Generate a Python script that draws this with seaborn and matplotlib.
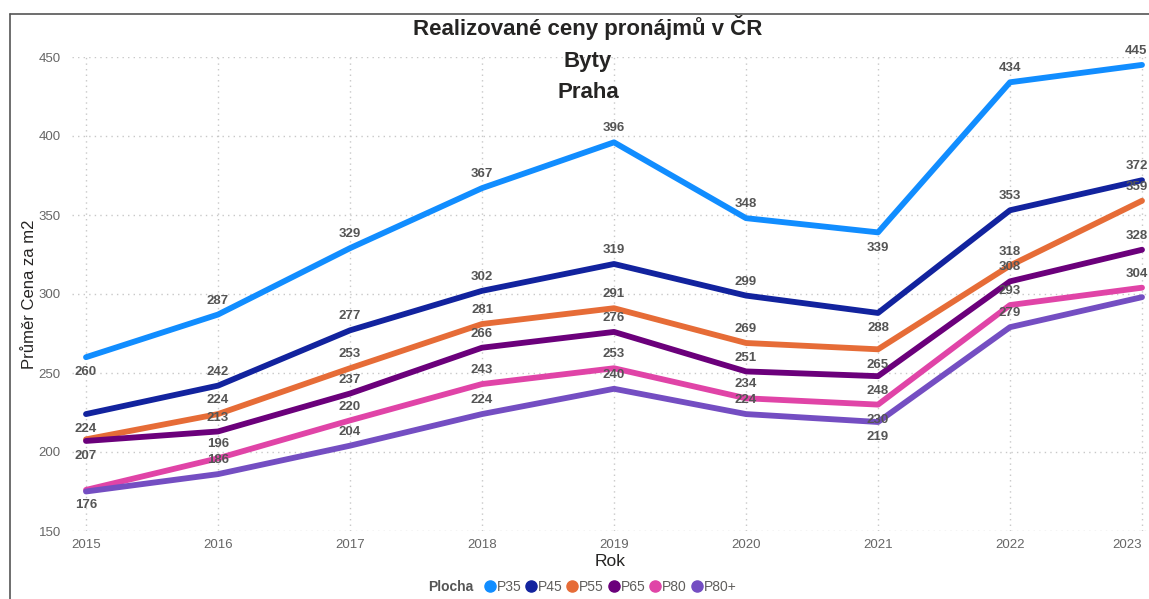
import pandas as pd
import seaborn as sns
import matplotlib.pyplot as plt
from matplotlib.lines import Line2D

# data
years = [2015, 2016, 2017, 2018, 2019, 2020, 2021, 2022, 2023]
p35 = [260, 287, 329, 367, 396, 348, 339, 434, 445]
p45 = [224, 242, 277, 302, 319, 299, 288, 353, 372]
p55 = [208, 224, 253, 281, 291, 269, 265, 318, 359]
p65 = [207, 213, 237, 266, 276, 251, 248, 308, 328]
p80 = [176, 196, 220, 243, 253, 234, 230, 293, 304]
p80plus = [175, 186, 204, 224, 240, 224, 219, 279, 298]
series_names = ["P35", "P45", "P55", "P65", "P80", "P80+"]
y_ticks = [150, 200, 250, 300, 350, 400, 450]

colors = ["#118DFF", "#12239E", "#E66C37", "#6B007B", "#E044A7", "#744EC2"]

df = pd.DataFrame({"Rok": years, "P35": p35, "P45": p45, "P55": p55,
                   "P65": p65, "P80": p80, "P80+": p80plus})
long = df.melt(id_vars="Rok", var_name="Plocha", value_name="Cena")

sns.set_style("white")
plt.rcParams["font.family"] = ["Liberation Sans", "DejaVu Sans"]

W, H = 1149, 599
fig = plt.figure(figsize=(W / 100, H / 100), dpi=100)
ax = fig.add_axes([72 / W, 1 - 531 / H, (W - 72) / W, (531 - 57) / H])

sns.lineplot(data=long, x="Rok", y="Cena", hue="Plocha", hue_order=series_names,
             palette=colors, linewidth=4.2, legend=False, ax=ax,
             solid_capstyle="round", solid_joinstyle="round")

ax.set_xlim(2015 - 14 / 132, 2023 + 7 / 132)
ax.set_ylim(150, 450)
ax.set_xticks(years)
ax.set_yticks(y_ticks)
ax.tick_params(axis="both", length=0, labelsize=9.5, labelcolor="#666666")
ax.tick_params(axis="y", pad=8)
ax.tick_params(axis="x", pad=6)
# last year sits on the right edge: keep its label inside the figure
last_tick = ax.get_xticklabels()[-1]
last_tick.set_horizontalalignment("right")
for s in ax.spines.values():
    s.set_visible(False)
ax.grid(True, linestyle=(0, (1, 3)), color="#c8c8c8", linewidth=1)
ax.set_axisbelow(True)

ax.set_xlabel("Rok", fontsize=12.5, color="#252423", labelpad=2)
ax.set_ylabel("Průměr Cena za m2", fontsize=12, color="#252423", labelpad=1)

# data labels: below the line at the dips, a few hidden as in the original
below_years = {2015, 2021}
hidden = {("P55", 2015), ("P80+", 2015), ("P80+", 2023)}
for name in series_names:
    sub = long[long["Plocha"] == name]
    for yr, val in zip(sub["Rok"], sub["Cena"]):
        if (name, yr) in hidden:
            continue
        dy = -11 if yr in below_years else 10
        if yr == years[-1]:
            ha, dx = "right", 4
        else:
            ha, dx = "center", 0
        ax.annotate(f"{val}", (yr, val), xytext=(dx, dy), textcoords="offset points",
                    ha=ha, va="center", fontsize=9.5, fontweight="bold",
                    color="#555555", annotation_clip=False)

# titles
for txt, ypx in [("Realizované ceny pronájmů v ČR", 27), ("Byty", 62), ("Praha", 92)]:
    fig.text(588 / W, 1 - ypx / H, txt, ha="center", va="center",
             fontsize=16, fontweight="bold", color="#252423")

# legend
fig.text(428 / W, 1 - 587 / H, "Plocha", ha="left", va="center",
         fontsize=10, fontweight="bold", color="#555555")
handles = [Line2D([], [], marker="o", linestyle="", markersize=8, color=c) for c in colors]
fig.legend(handles, series_names, loc="center left", bbox_to_anchor=(477 / W, 1 - 587 / H),
           ncol=6, frameon=False, handlelength=0.8, handletextpad=0.1,
           columnspacing=0.3, fontsize=10, labelcolor="#605E5C", borderpad=0)

# frame lines of the screenshot (top and left)
fig.add_artist(Line2D([10 / W, 1], [1 - 14 / H, 1 - 14 / H], color="#555555", linewidth=1.2))
fig.add_artist(Line2D([10 / W, 10 / W], [0, 1 - 14 / H], color="#555555", linewidth=1.2))

fig.savefig("out.png", dpi=100)
plt.close(fig)
